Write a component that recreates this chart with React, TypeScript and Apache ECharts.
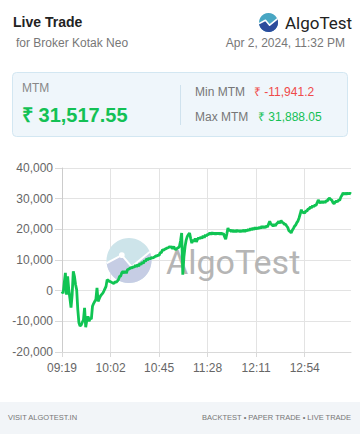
import React, { useEffect, useRef } from "react";
import * as echarts from "echarts";

const startTime = "09:19";
const minuteCount = 257;
const labelInterval = 42;
const yMin = -20000;
const yMax = 40000;
const yInterval = 10000;

const mtmValues = [
  -200, -900, 2500, 5800, -1300, 4700, 300, -2500, -5500, -1300,
  6300, 4700, 2000, 300, -6200, -10500, -11500, -11200, -10300, -9500,
  -5600, -11941.2, -9600, -8400, -10000, -9000, -9300, -5100, -4200, -3500,
  -2900, 900, -3500, -2600, -1800, -1300, -900, -200, 600, 1400,
  3600, 3300, 3100, 2900, 2700, 2500, 2300, 2900, 2700, 3100,
  3600, 4600, 4800, 5900, 6300, 5700, 6400, 5700, 6800, 7000,
  7200, 7500, 7400, 7800, 7600, 8300, 7800, 8500, 8000, 8900,
  8500, 9300, 8900, 9800, 9500, 10400, 10000, 10700, 10300, 10800,
  10700, 10800, 11000, 11300, 11300, 11600, 11500, 12400, 12400, 13300,
  13200, 13500, 13700, 13900, 14000, 14300, 14200, 14300, 13700, 14400,
  13600, 13400, 13800, 14000, 14400, 16200, 18800, 5200, 11000, 14400,
  16500, 17700, 18300, 18800, 17000, 15500, 16600, 16000, 17000, 15900,
  16700, 17300, 16900, 17500, 17000, 17900, 17300, 18200, 17800, 18400,
  18300, 18900, 18300, 19000, 18400, 18900, 18300, 18900, 18400, 18900,
  18300, 18900, 18300, 18700, 17600, 16800, 18500, 20400, 19500, 19900,
  19200, 19800, 19100, 19700, 19100, 19800, 19200, 19700, 19100, 19700,
  19300, 19800, 19200, 19900, 19400, 20100, 19600, 20300, 19800, 20400,
  19900, 20600, 20100, 20500, 20200, 20700, 20300, 21000, 20500, 21000,
  20500, 21100, 20800, 21700, 22600, 21700, 21500, 21000, 21700, 21100,
  21800, 22100, 22600, 22000, 22900, 22300, 22100, 21600, 21700, 21100,
  20600, 19500, 19300, 18800, 19700, 20300, 21000, 21400, 22200, 22700,
  23700, 25000, 26400, 25400, 25600, 25300, 26000, 25900, 26700, 26600,
  27300, 27000, 27700, 27400, 27900, 27800, 28600, 29600, 28900, 28600,
  29100, 28600, 29200, 28700, 29300, 29200, 29900, 30200, 29700, 29500,
  28700, 28300, 28900, 29200, 29000, 29500, 29500, 30500, 31100, 31888.05,
  31400, 31800, 31500, 31800, 31600, 31750, 31517.55,
];

const titleText = "Live Trade";
const subtitleText = "for Broker Kotak Neo";
const brandText = "AlgoTest";
const dateText = "Apr 2, 2024, 11:32 PM";
const mtmLabel = "MTM";
const mtmValueText = "₹ 31,517.55";
const minLabel = "Min MTM";
const minValueText = "₹ -11,941.2";
const maxLabel = "Max MTM";
const maxValueText = "₹ 31,888.05";
const footerLeft = "VISIT ALGOTEST.IN";
const footerRight = "BACKTEST • PAPER TRADE • LIVE TRADE";

function buildCategories(): string[] {
  const [h, m] = startTime.split(":").map(Number);
  const out: string[] = [];
  for (let i = 0; i < minuteCount; i++) {
    const t = h * 60 + m + i;
    const hh = Math.floor(t / 60);
    const mm = t % 60;
    out.push(String(hh).padStart(2, "0") + ":" + String(mm).padStart(2, "0"));
  }
  return out;
}

const SANS = '"Liberation Sans", Arial, sans-serif';

function logo(cx: number, cy: number, r: number, top: string, bottom: string, lineW: number, dot: boolean, z: number) {
  const zig: [number, number][] = [
    [-0.99, 0.12],
    [-0.32, -0.24],
    [0.12, 0.28],
    [0.93, -0.39],
  ];
  const a0 = Math.atan2(zig[3][1], zig[3][0]);
  const a1 = Math.atan2(zig[0][1], zig[0][0]);
  const pts: number[][] = zig.map(([x, y]) => [cx + x * r, cy + y * r]);
  const steps = 24;
  for (let i = 0; i <= steps; i++) {
    const a = a0 + ((a1 - a0) * i) / steps;
    pts.push([cx + Math.cos(a) * r, cy + Math.sin(a) * r]);
  }
  const els: any[] = [
    { type: "circle", z, shape: { cx, cy, r }, style: { fill: top } },
    { type: "polygon", z, shape: { points: pts }, style: { fill: bottom } },
    {
      type: "polyline",
      z,
      shape: { points: zig.map(([x, y]) => [cx + x * r, cy + y * r]) },
      style: { stroke: "#ffffff", lineWidth: lineW, fill: null, lineJoin: "round" },
    },
  ];
  if (dot) {
    els.push({
      type: "circle",
      z,
      shape: { cx: cx - 0.32 * r, cy: cy - 0.24 * r, r: r * 0.13 },
      style: { fill: "#ffffff" },
    });
  }
  return els;
}

function txt(text: string, x: number, y: number, font: string, fill: string, align = "left", z = 10) {
  return {
    type: "text",
    z,
    x,
    y,
    style: {
      text,
      font,
      fill,
      align,
      verticalAlign: "middle",
      textAlign: align,
      textVerticalAlign: "middle",
    },
  };
}

export default function App() {
  const ref = useRef<HTMLDivElement>(null);

  useEffect(() => {
    if (!ref.current) return;
    const chart = echarts.init(ref.current, null, { renderer: "svg" });
    const categories = buildCategories();

    const graphics: any[] = [
      { type: "rect", z: 0, shape: { x: 0, y: 402, width: 360, height: 32 }, style: { fill: "#f2f5f8" } },
      {
        type: "rect",
        z: 0,
        shape: { x: 12.5, y: 72.5, width: 335, height: 64, r: 4 },
        style: { fill: "#eff6fb", stroke: "#d3e7f2", lineWidth: 1 },
      },
      { type: "line", z: 1, shape: { x1: 180.5, y1: 85, x2: 180.5, y2: 125 }, style: { stroke: "#cfe2ee", lineWidth: 1 } },
      txt(titleText, 13, 22, `bold 14px ${SANS}`, "#222222"),
      txt(subtitleText, 16, 43, `12px ${SANS}`, "#777777"),
      ...logo(268.5, 22.5, 9.5, "#48a6c3", "#2c4c9c", 1.6, false, 5),
      txt(brandText, 285, 22.5, `17px Roboto, ${SANS}`, "#222222"),
      txt(dateText, 345, 43, `12px ${SANS}`, "#777777", "right"),
      txt(mtmLabel, 22, 88, `12px ${SANS}`, "#888888"),
      txt(mtmValueText, 22, 115, `bold 20px ${SANS}`, "#13c155"),
      txt(minLabel, 195, 92, `12px ${SANS}`, "#777777"),
      txt(minValueText, 254, 92, `12px ${SANS}`, "#ef4a4a"),
      txt(maxLabel, 195, 117, `12px ${SANS}`, "#777777"),
      txt(maxValueText, 258, 117, `12px ${SANS}`, "#13c155"),
      txt(footerLeft, 8, 417, `7.5px ${SANS}`, "#777777"),
      txt(footerRight, 351, 417, `7.5px ${SANS}`, "#777777", "right"),
      ...logo(129, 260.5, 22.5, "#cde4ea", "#c6cde4", 2, true, 1),
      txt(brandText, 166, 262, `34px Roboto, ${SANS}`, "#b5b5b5", "left", 1),
    ];

    chart.setOption({
      animation: false,
      backgroundColor: "#ffffff",
      textStyle: { fontFamily: SANS },
      grid: { left: 62, right: 9, top: 168, bottom: 82 },
      xAxis: {
        type: "category",
        data: categories,
        boundaryGap: false,
        axisLine: { show: true, onZero: false, lineStyle: { color: "#d9d9d9" } },
        axisTick: { show: true, interval: labelInterval, length: 5, lineStyle: { color: "#d9d9d9" } },
        axisLabel: { interval: labelInterval, color: "#666666", fontSize: 12, margin: 10, fontFamily: SANS },
        splitLine: { show: true, interval: labelInterval, lineStyle: { color: "#e3e3e3" } },
      },
      yAxis: {
        type: "value",
        min: yMin,
        max: yMax,
        interval: yInterval,
        axisLine: { show: true, lineStyle: { color: "#cccccc" } },
        axisTick: { show: true, length: 7, lineStyle: { color: "#d9d9d9" } },
        axisLabel: { color: "#666666", fontSize: 12, margin: 9, fontFamily: SANS },
        splitLine: { show: true, lineStyle: { color: "#e3e3e3" } },
      },
      series: [
        {
          type: "line",
          data: mtmValues,
          showSymbol: false,
          symbol: "none",
          z: 5,
          lineStyle: { color: "#10c453", width: 2.8 },
        },
      ],
      graphic: graphics,
    });

    return () => chart.dispose();
  }, []);

  return (
    <div
      ref={ref}
      style={{ position: "fixed", left: 0, top: 0, width: 360, height: 434, background: "#ffffff" }}
    />
  );
}
